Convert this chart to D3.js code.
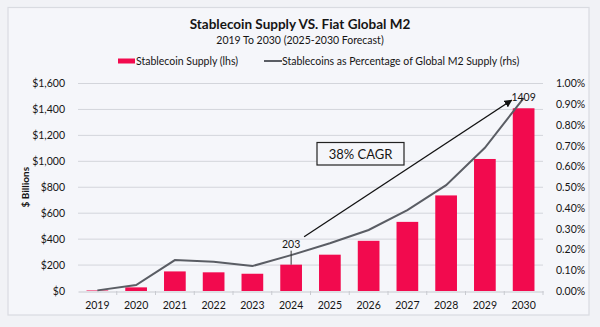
<!DOCTYPE html>
<html>
<head>
<meta charset="utf-8">
<script src="https://cdn.jsdelivr.net/npm/d3@7"></script>
<style>
  html, body { margin: 0; padding: 0; background: #f1f2f6; }
  body { width: 600px; height: 327px; overflow: hidden; font-family: Lato, "Open Sans", sans-serif; }
  text { fill: #151515; }
</style>
</head>
<body>
<div id="chart"></div>
<script>
const years = ["2019","2020","2021","2022","2023","2024","2025","2026","2027","2028","2029","2030"]
// stablecoin supply, $ billions (lhs)
const supply = [4, 28, 151, 144, 133, 203, 280, 387, 533, 737, 1018, 1409]
// stablecoins as % of global M2 (rhs)
const m2Share = [0.003, 0.029, 0.149, 0.141, 0.12, 0.173, 0.23, 0.294, 0.39, 0.51, 0.69, 0.93]
const leftTicks = [0, 200, 400, 600, 800, 1000, 1200, 1400, 1600]
const rightTicks = [0, 0.1, 0.2, 0.3, 0.4, 0.5, 0.6, 0.7, 0.8, 0.9, 1.0]

const W = 600, H = 327
const m = { top: 83.5, right: 57, bottom: 36, left: 78 }

const svg = d3.select("#chart").append("svg")
  .attr("width", W).attr("height", H)

svg.append("rect")
  .attr("x", 8).attr("y", 7.5).attr("width", 581).attr("height", 307.5)
  .attr("fill", "#f5f6fa").attr("stroke", "#d9dbe1").attr("stroke-width", 1.2)

const x = d3.scaleBand().domain(years).range([m.left, W - m.right]).paddingInner(0.44).paddingOuter(0.22)
const xb = d3.scaleBand().domain(years).range([m.left, W - m.right])
const y = d3.scaleLinear().domain([0, 1600]).range([H - m.bottom, m.top])
const y2 = d3.scaleLinear().domain([0, 1.0]).range([H - m.bottom, m.top])

// titles
svg.append("text").attr("x", 300).attr("y", 29).attr("text-anchor", "middle")
  .style("font-size", "13.5px").style("font-weight", 700)
  .text("Stablecoin Supply VS. Fiat Global M2")
svg.append("text").attr("x", 300).attr("y", 43.5).attr("text-anchor", "middle")
  .style("font-size", "10.5px")
  .text("2019 To 2030 (2025-2030 Forecast)")

// legend
const lg = svg.append("g").style("font-size", "10.5px")
lg.append("rect").attr("x", 118).attr("y", 58.5).attr("width", 17).attr("height", 5).attr("fill", "#f20a4e")
lg.append("text").attr("x", 136).attr("y", 65).text("Stablecoin Supply (lhs)")
lg.append("line").attr("x1", 264).attr("x2", 282).attr("y1", 61).attr("y2", 61)
  .attr("stroke", "#5a5d64").attr("stroke-width", 2)
lg.append("text").attr("x", 282).attr("y", 65).text("Stablecoins as Percentage of Global M2 Supply (rhs)")

// gridlines
svg.append("g").selectAll("line").data(leftTicks.slice(1)).join("line")
  .attr("x1", m.left).attr("x2", W - m.right)
  .attr("y1", d => y(d)).attr("y2", d => y(d))
  .attr("stroke", "#d3d5db").attr("stroke-width", 1)

// left axis
const yAxis = svg.append("g").attr("transform", `translate(${m.left - 10},0)`)
  .call(d3.axisLeft(y).tickValues(leftTicks).tickSize(0).tickFormat(d => "$" + d3.format(",")(d)))
yAxis.select(".domain").remove()
yAxis.selectAll("text").style("font-size", "10.5px").style("font-family", "Lato, sans-serif").attr("fill", "#151515")

svg.append("text")
  .attr("transform", `translate(29,${(m.top + H - m.bottom) / 2}) rotate(-90)`)
  .attr("text-anchor", "middle").style("font-size", "10px").style("font-weight", 700)
  .text("$ Billions")

// right axis
const yAxis2 = svg.append("g").attr("transform", `translate(${W - m.right + 10},0)`)
  .call(d3.axisRight(y2).tickValues(rightTicks).tickSize(0).tickFormat(d => d3.format(".2f")(d) + "%"))
yAxis2.select(".domain").remove()
yAxis2.selectAll("text").style("font-size", "10.5px").style("font-family", "Lato, sans-serif").attr("fill", "#151515")

// x axis
const xAxis = svg.append("g").attr("transform", `translate(0,${H - m.bottom + 0.5})`)
  .call(d3.axisBottom(xb).tickSize(0).tickPadding(10))
xAxis.select(".domain").attr("stroke", "#c8cad0")
xAxis.selectAll("text").style("font-size", "10.5px").style("font-family", "Lato, sans-serif").attr("fill", "#151515")
svg.append("g").selectAll("line").data(years.slice(1).concat(["end"])).join("line")
  .attr("x1", d => d === "end" ? W - m.right : xb(d))
  .attr("x2", d => d === "end" ? W - m.right : xb(d))
  .attr("y1", H - m.bottom).attr("y2", H - m.bottom + 4)
  .attr("stroke", "#c8cad0")

// bars
svg.append("g").selectAll("rect").data(supply).join("rect")
  .attr("x", (d, i) => x(years[i]))
  .attr("width", x.bandwidth())
  .attr("y", d => y(d))
  .attr("height", d => y(0) - y(d))
  .attr("fill", "#f20a4e")

// M2 share line
svg.append("path")
  .datum(m2Share)
  .attr("fill", "none").attr("stroke", "#5a5d64").attr("stroke-width", 2)
  .attr("d", d3.line().x((d, i) => xb(years[i]) + xb.bandwidth() / 2).y(d => y2(d)))

// value labels
const i24 = years.indexOf("2024"), i30 = years.indexOf("2030")
const cx = i => xb(years[i]) + xb.bandwidth() / 2
svg.append("line").attr("x1", cx(i24)).attr("x2", cx(i24))
  .attr("y1", y(supply[i24]) - 14).attr("y2", y(supply[i24]))
  .attr("stroke", "#333").attr("stroke-width", 1)
svg.append("text").attr("x", cx(i24)).attr("y", y(supply[i24]) - 16.5)
  .attr("text-anchor", "middle").style("font-size", "10.5px").text(supply[i24])
svg.append("text").attr("x", cx(i30)).attr("y", y(supply[i30]) - 7.5)
  .attr("text-anchor", "middle").style("font-size", "10.5px").text(supply[i30])

// CAGR arrow
svg.append("defs").append("marker")
  .attr("id", "arrow").attr("viewBox", "0 0 10 10").attr("refX", 9).attr("refY", 5)
  .attr("markerWidth", 6).attr("markerHeight", 6).attr("orient", "auto")
  .append("path").attr("d", "M0,0L10,5L0,10z").attr("fill", "#111")
svg.append("line")
  .attr("x1", cx(i24) + 13).attr("y1", y(supply[i24]) - 28)
  .attr("x2", cx(i30) - 12).attr("y2", y(supply[i30]) - 8)
  .attr("stroke", "#111").attr("stroke-width", 1.3).attr("marker-end", "url(#arrow)")

svg.append("rect").attr("x", 317).attr("y", 142.5).attr("width", 87).attr("height", 22.5)
  .attr("fill", "#f5f6fa").attr("stroke", "#222").attr("stroke-width", 1.2)
svg.append("text").attr("x", 360.5).attr("y", 158.5).attr("text-anchor", "middle")
  .style("font-size", "13px").text("38% CAGR")
</script>
</body>
</html>
